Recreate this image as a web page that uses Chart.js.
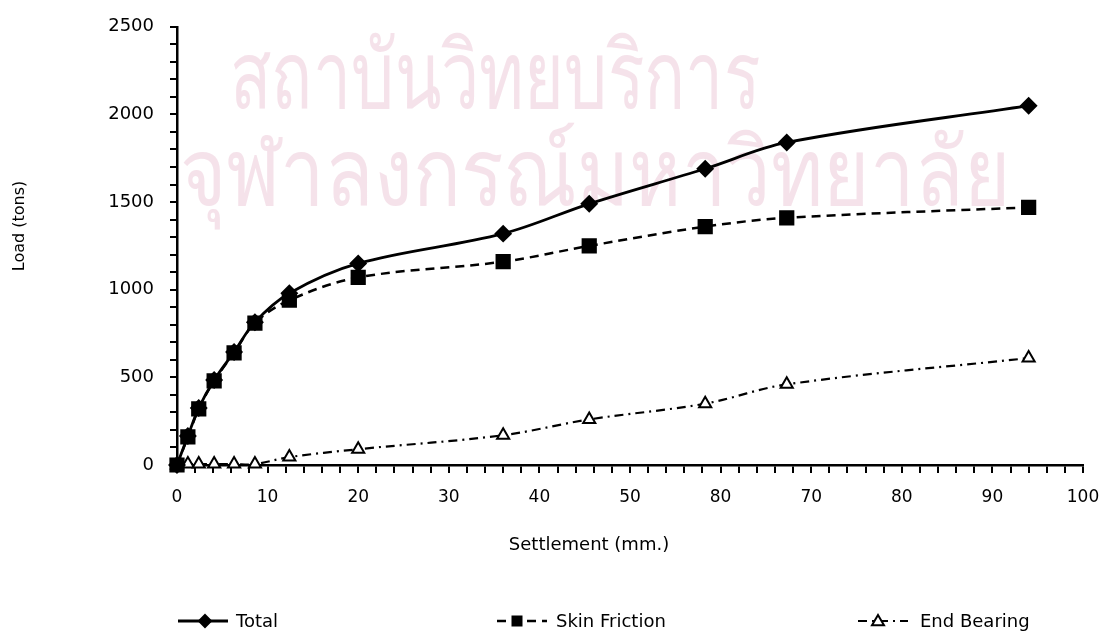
<!DOCTYPE html>
<html>
<head>
<meta charset="utf-8">
<script src="https://cdn.jsdelivr.net/npm/chart.js@4.4.0/dist/chart.umd.min.js"></script>
<style>
html, body { margin: 0; padding: 0; background: #fff; }
#wrap { width: 1118px; height: 639px; position: relative; }
</style>
</head>
<body>
<div id="wrap"><canvas id="load_chart"></canvas></div>
<script>
// values
var settlement    = [0, 1.2, 2.4, 4.1, 6.3, 8.6, 12.4, 20, 36, 45.5, 58.3, 67.3, 94];
var total_load    = [0, 165, 325, 485, 645, 815, 980, 1150, 1320, 1490, 1690, 1840, 2050];
var skin_friction = [0, 160, 320, 480, 640, 810, 940, 1070, 1160, 1250, 1360, 1410, 1470];
var end_bearing   = [0, 5, 5, 5, 5, 5, 45, 90, 170, 260, 350, 460, 610];

var series_names  = ['Total', 'Skin Friction', 'End Bearing'];
var x_tick_labels = ['0', '10', '20', '30', '40', '50', '80', '70', '80', '90', '100'];
var y_tick_labels = ['0', '500', '1000', '1500', '2000', '2500'];
var x_title = 'Settlement (mm.)';
var y_title = 'Load (tons)';
var watermark_lines = ['สถาบันวิทยบริการ', 'จุฬาลงกรณ์มหาวิทยาลัย'];

var font_name = "'DejaVu Sans', 'Liberation Sans', sans-serif";

function toPoints(ys){
    var pts = [];
    for (var i = 0; i < settlement.length; i++) {
        pts.push({x: settlement[i], y: ys[i]});
    }
    return pts;
}

// faint pink library stamp behind the plot
var watermarkPlugin = {
    id: 'watermark',
    beforeDraw: function(chart){
        var ctx = chart.ctx;
        ctx.save();
        ctx.fillStyle = '#fff';
        ctx.fillRect(0, 0, chart.width, chart.height);
        ctx.fillStyle = 'rgba(236, 198, 214, 0.5)';
        ctx.textBaseline = 'alphabetic';
        ctx.font = "94px 'Noto Sans', 'DejaVu Sans', sans-serif";
        ctx.fillText(watermark_lines[0], 230, 108, 530);
        ctx.fillText(watermark_lines[1], 180, 205, 830);
        ctx.restore();
    }
};

function drawMarker(ctx, style, x, y, r){
    ctx.beginPath();
    if (style === 'rectRot') {
        ctx.moveTo(x, y - r); ctx.lineTo(x + r, y); ctx.lineTo(x, y + r); ctx.lineTo(x - r, y);
    } else if (style === 'rect') {
        ctx.rect(x - r * 0.75, y - r * 0.75, r * 1.5, r * 1.5);
    } else {
        ctx.moveTo(x, y - r); ctx.lineTo(x + r, y + r * 0.7); ctx.lineTo(x - r, y + r * 0.7);
    }
    ctx.closePath();
    ctx.fill();
    ctx.stroke();
}

// axis titles sit off-centre in the scan, so they are placed by hand
var titlesPlugin = {
    id: 'axisTitles',
    afterDraw: function(chart){
        var ctx = chart.ctx;
        ctx.save();
        ctx.fillStyle = '#000';
        ctx.textAlign = 'center';
        ctx.textBaseline = 'middle';
        ctx.font = '18px ' + font_name;
        ctx.fillText(x_title, 589, 545);
        ctx.translate(20, 226);
        ctx.rotate(-Math.PI / 2);
        ctx.font = '16px ' + font_name;
        ctx.fillText(y_title, 0, 0);
        ctx.restore();
    }
};

// legend row under the axis title: line sample, marker, name
var legendRow = [
    {x0: 178, x1: 228, mark: 205, text: 236},
    {x0: 497, x1: 547, mark: 517, text: 556},
    {x0: 858, x1: 908, mark: 878, text: 920}
];
var legendPlugin = {
    id: 'bottomLegend',
    afterDraw: function(chart){
        var ctx = chart.ctx, y = 621;
        ctx.save();
        chart.data.datasets.forEach(function(ds, i){
            var it = legendRow[i];
            ctx.strokeStyle = '#000';
            ctx.lineWidth = ds.borderWidth;
            ctx.setLineDash(ds.borderDash || []);
            ctx.beginPath();
            ctx.moveTo(it.x0, y);
            ctx.lineTo(it.x1, y);
            ctx.stroke();
            ctx.setLineDash([]);
            ctx.fillStyle = ds.pointBackgroundColor;
            ctx.lineWidth = 2;
            drawMarker(ctx, ds.pointStyle, it.mark, y, 6);
            ctx.fillStyle = '#000';
            ctx.font = '18px ' + font_name;
            ctx.textBaseline = 'middle';
            ctx.fillText(ds.label, it.text, y + 1);
        });
        ctx.restore();
    }
};

var ctx = document.getElementById('load_chart').getContext('2d');
var load_chart = new Chart(ctx, {
    type: 'line',
    data: {
        datasets: [
            {
                label: series_names[0],
                data: toPoints(total_load),
                borderColor: '#000',
                borderWidth: 2.8,
                pointStyle: 'rectRot',
                pointRadius: 7,
                pointBackgroundColor: '#000',
                pointBorderColor: '#000',
                tension: 0.35
            },
            {
                label: series_names[1],
                data: toPoints(skin_friction),
                borderColor: '#000',
                borderWidth: 2.5,
                borderDash: [9, 6],
                pointStyle: 'rect',
                pointRadius: 9,
                pointBackgroundColor: '#000',
                pointBorderColor: '#000',
                tension: 0.35
            },
            {
                label: series_names[2],
                data: toPoints(end_bearing),
                borderColor: '#000',
                borderWidth: 2.2,
                borderDash: [9, 5, 2, 5],
                pointStyle: 'triangle',
                pointRadius: 7,
                pointBorderWidth: 2,
                pointBackgroundColor: '#fff',
                pointBorderColor: '#000',
                tension: 0.35
            }
        ]
    },
    options: {
        responsive: true,
        maintainAspectRatio: false,
        animation: false,
        clip: false,
        layout: { padding: {left: 12, right: 35, top: 22, bottom: 86} },
        plugins: {
            legend: { display: false },
            tooltip: { enabled: false }
        },
        scales: {
            x: {
                type: 'linear',
                min: 0,
                max: 100,
                afterFit: function(scale){ scale.height = 88; },
                border: { display: true, color: '#000', width: 2.5 },
                grid: { drawOnChartArea: false, drawTicks: true, tickLength: 8, color: '#000', lineWidth: 2 },
                ticks: {
                    stepSize: 2,
                    autoSkip: false,
                    maxRotation: 0,
                    padding: 14,
                    color: '#000',
                    font: { family: font_name, size: 17 },
                    callback: function(v){ return v % 10 === 0 ? x_tick_labels[v / 10] : ''; }
                }
            },
            y: {
                min: 0,
                max: 2500,
                afterFit: function(scale){ scale.width = 165; },
                border: { display: true, color: '#000', width: 2.5 },
                grid: { drawOnChartArea: false, drawTicks: true, tickLength: 7, color: '#000', lineWidth: 2 },
                ticks: {
                    stepSize: 100,
                    autoSkip: false,
                    padding: 16,
                    color: '#000',
                    font: { family: font_name, size: 18 },
                    callback: function(v){ return v % 500 === 0 ? y_tick_labels[v / 500] : ''; }
                }
            }
        }
    },
    plugins: [watermarkPlugin, titlesPlugin, legendPlugin]
});
</script>
</body>
</html>
